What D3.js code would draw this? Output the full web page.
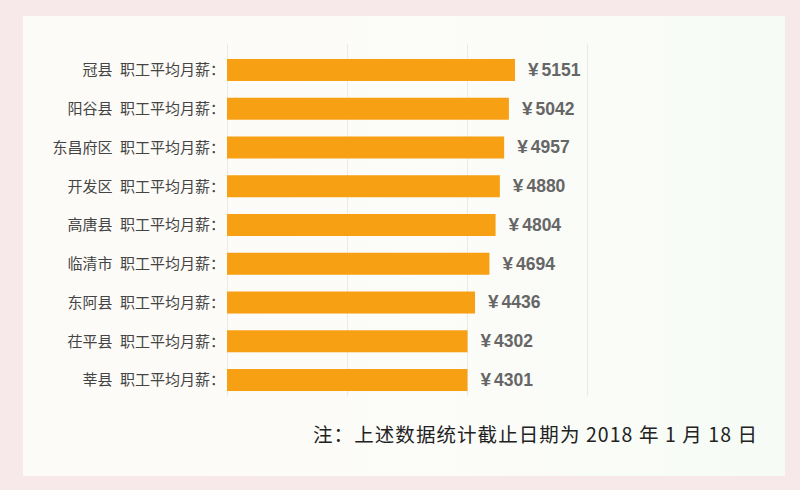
<!DOCTYPE html>
<html>
<head>
<meta charset="utf-8">
<script src="https://cdn.jsdelivr.net/npm/d3@7"></script>
<style>
  html, body { margin: 0; padding: 0; background: #f7e9e9; }
  svg { display: block; }
  text { white-space: pre; }
</style>
</head>
<body>
<svg id="chart" width="800" height="490"></svg>
<script>
// 区县 & 职工平均月薪（元）
const counties = ['冠县', '阳谷县', '东昌府区', '开发区', '高唐县', '临清市', '东阿县', '茌平县', '莘县']
const salaries = [5151, 5042, 4957, 4880, 4804, 4694, 4436, 4302, 4301]
const labelSuffix = '\u2002职工平均月薪：'
const note = '注：上述数据统计截止日期为 2018 年 1 月 18 日'

const W = 800
const H = 490
const svg = d3.select('#chart')

// background panel
const defs = svg.append('defs')
const grad = defs.append('linearGradient').attr('id', 'panelGrad')
  .attr('x1', '0%').attr('x2', '100%').attr('y1', '0%').attr('y2', '0%')
grad.append('stop').attr('offset', '0%').attr('stop-color', '#fdfbf7')
grad.append('stop').attr('offset', '55%').attr('stop-color', '#fcfcf9')
grad.append('stop').attr('offset', '100%').attr('stop-color', '#f6fbf5')

svg.append('rect').attr('width', W).attr('height', H).attr('fill', '#f7e9e9')
svg.append('rect')
  .attr('x', 23).attr('y', 16).attr('width', 762).attr('height', 460)
  .attr('fill', 'url(#panelGrad)')

// scales
const x = d3.scaleLinear().domain([0, 8585]).range([227, 707])
const y = d3.scaleBand()
  .domain(counties)
  .range([50.6, 399.4])
  .paddingInner(0.432)
  .paddingOuter(0.216)

// grid
const gridVals = d3.range(4).map(i => x.domain()[1] * i / 4)
svg.append('g').attr('class', 'grid')
  .selectAll('line')
  .data(gridVals)
  .join('line')
  .attr('x1', d => Math.round(x(d)) + 0.5)
  .attr('x2', d => Math.round(x(d)) + 0.5)
  .attr('y1', 44)
  .attr('y2', 396)
  .attr('stroke', '#ebebe6')
  .attr('stroke-width', 1)

// bars
svg.append('g')
  .selectAll('rect')
  .data(salaries)
  .join('rect')
  .attr('x', x(0))
  .attr('y', (d, i) => y(counties[i]))
  .attr('width', d => x(d) - x(0))
  .attr('height', y.bandwidth())
  .attr('fill', '#f8a014')

// category labels
svg.append('g')
  .selectAll('text')
  .data(counties)
  .join('text')
  .attr('x', 225)
  .attr('y', d => y(d) + y.bandwidth() / 2)
  .attr('dy', '0.36em')
  .attr('text-anchor', 'end')
  .attr('font-family', '"Noto Sans CJK SC", sans-serif')
  .attr('font-size', 15)
  .attr('fill', '#444')
  .text(d => d + labelSuffix)

// value labels
const vals = svg.append('g')
  .selectAll('text')
  .data(salaries)
  .join('text')
  .attr('x', d => x(d) + 13)
  .attr('y', (d, i) => y(counties[i]) + y.bandwidth() / 2)
  .attr('dy', '0.37em')
  .attr('font-family', '"Liberation Sans", Arial, sans-serif')
  .attr('font-weight', 'bold')
  .attr('fill', '#666')
vals.append('tspan').attr('font-size', 19).text('¥')
vals.append('tspan').attr('dx', 3).attr('font-size', 17.5).text(d => d)

// note
svg.append('text')
  .attr('x', 313)
  .attr('y', 435)
  .attr('dy', '0.36em')
  .attr('textLength', 444)
  .attr('lengthAdjust', 'spacing')
  .attr('font-family', '"Noto Sans CJK SC", sans-serif')
  .attr('font-size', 19.5)
  .attr('fill', '#222')
  .text(note)
</script>
</body>
</html>
